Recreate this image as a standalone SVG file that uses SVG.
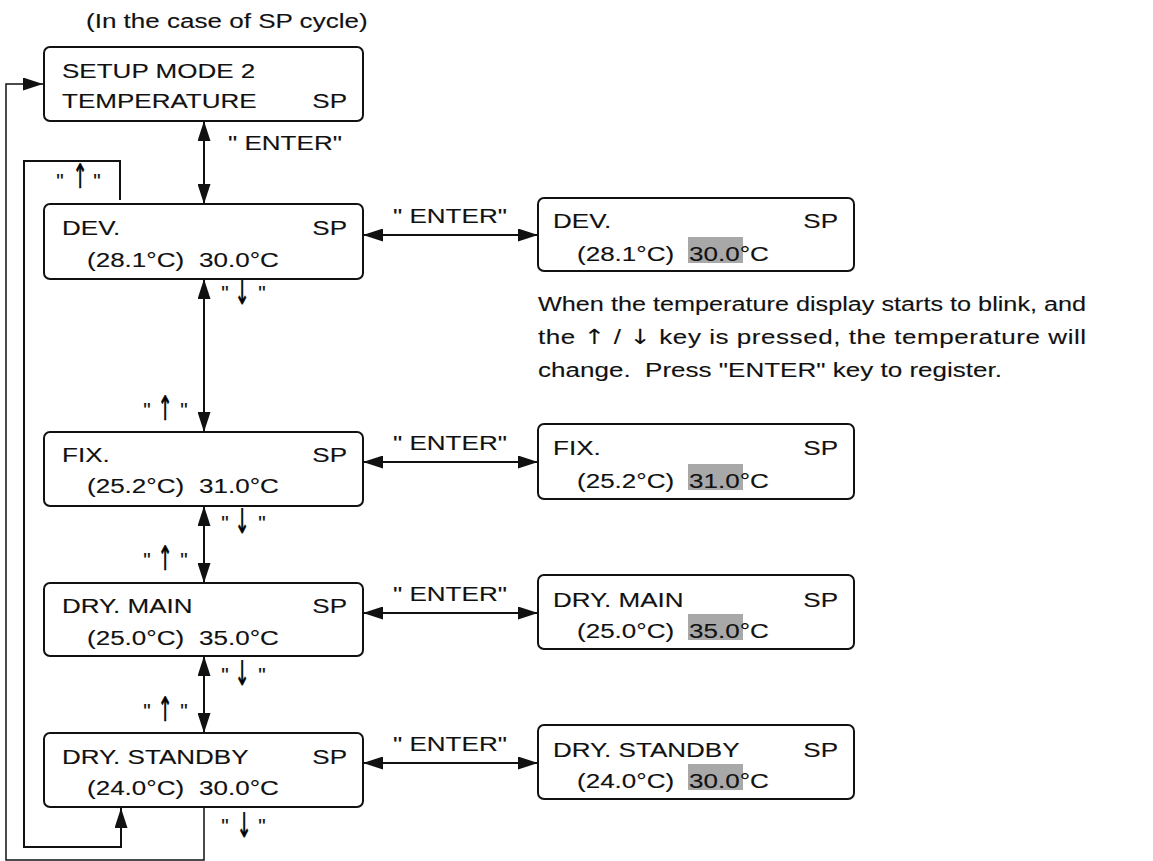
<svg xmlns="http://www.w3.org/2000/svg" width="1153" height="861" viewBox="0 0 1153 861">
<style>
.t{font-family:"Liberation Sans",Arial,Helvetica,sans-serif;font-size:21px;fill:#111;stroke:#111;stroke-width:0.12}
.a{font-family:"DejaVu Sans",sans-serif;font-size:24px;fill:#000;stroke:#000;stroke-width:0.5;text-anchor:middle}
.e{text-anchor:end}
.m{text-anchor:middle}
.box{fill:#fff;stroke:#111;stroke-width:2}
.hl{fill:#a8a8a8}
.ln{fill:none;stroke:#111;stroke-width:2}
.ol{fill:none;stroke:#111;stroke-width:1.5}
</style>
<defs>
<marker id="ah" viewBox="0 0 20 13" refX="20" refY="6.5" markerWidth="20" markerHeight="13" markerUnits="userSpaceOnUse" orient="auto-start-reverse">
<path d="M0,0 L20,6.5 L0,13 z" fill="#111"/>
</marker>
</defs>
<rect width="1153" height="861" fill="#fff"/>

<text class="t" transform="translate(86,28) scale(1.24,1)">(In the case of SP cycle)</text>

<g id="connectors">
<line class="ln" x1="204" y1="121" x2="204" y2="204" marker-start="url(#ah)" marker-end="url(#ah)"/>
<line class="ln" x1="204" y1="279" x2="204" y2="432" marker-start="url(#ah)" marker-end="url(#ah)"/>
<line class="ln" x1="204" y1="506" x2="204" y2="583" marker-start="url(#ah)" marker-end="url(#ah)"/>
<line class="ln" x1="204" y1="656" x2="204" y2="733" marker-start="url(#ah)" marker-end="url(#ah)"/>
<line class="ln" x1="363" y1="235" x2="538" y2="235" marker-start="url(#ah)" marker-end="url(#ah)"/>
<line class="ln" x1="363" y1="462" x2="538" y2="462" marker-start="url(#ah)" marker-end="url(#ah)"/>
<line class="ln" x1="363" y1="613" x2="538" y2="613" marker-start="url(#ah)" marker-end="url(#ah)"/>
<line class="ln" x1="363" y1="763" x2="538" y2="763" marker-start="url(#ah)" marker-end="url(#ah)"/>
<path class="ln" d="M120,200 V161 H24 V847 H121 V808" marker-end="url(#ah)"/>
<path class="ol" d="M204,807 V860 H6 V84 H43" marker-end="url(#ah)"/>

<text class="t" transform="translate(228,150) scale(1.24,1)">" ENTER"</text>
<text class="t" transform="translate(393,223) scale(1.24,1)">" ENTER"</text>
<text class="t" transform="translate(393,450) scale(1.24,1)">" ENTER"</text>
<text class="t" transform="translate(393,601) scale(1.24,1)">" ENTER"</text>
<text class="t" transform="translate(393,751) scale(1.24,1)">" ENTER"</text>

<g id="k-up-top">
<text class="t m" x="60" y="188">"</text><text class="a" transform="translate(80,188) scale(0.75,1.4)">↑</text><text class="t m" x="97" y="188">"</text>
</g>
<g id="k-dn-1">
<text class="t m" x="225" y="300">"</text><text class="a" transform="translate(242,304) scale(0.75,1.4)">↓</text><text class="t m" x="262" y="300">"</text>
</g>
<g id="k-up-1">
<text class="t m" x="147" y="417">"</text><text class="a" transform="translate(165,420) scale(0.75,1.4)">↑</text><text class="t m" x="184" y="417">"</text>
</g>
<g id="k-dn-2">
<text class="t m" x="225" y="530">"</text><text class="a" transform="translate(242,533) scale(0.75,1.4)">↓</text><text class="t m" x="262" y="530">"</text>
</g>
<g id="k-up-2">
<text class="t m" x="147" y="567">"</text><text class="a" transform="translate(165,570) scale(0.75,1.4)">↑</text><text class="t m" x="184" y="567">"</text>
</g>
<g id="k-dn-3">
<text class="t m" x="225" y="682">"</text><text class="a" transform="translate(242,685) scale(0.75,1.4)">↓</text><text class="t m" x="262" y="682">"</text>
</g>
<g id="k-up-3">
<text class="t m" x="147" y="718">"</text><text class="a" transform="translate(165,721) scale(0.75,1.4)">↑</text><text class="t m" x="184" y="718">"</text>
</g>
<g id="k-dn-4">
<text class="t m" x="225" y="833">"</text><text class="a" transform="translate(244,837) scale(0.75,1.4)">↓</text><text class="t m" x="262" y="833">"</text>
</g>
</g>

<g id="setup">
<rect class="box" x="44" y="47" width="319" height="74" rx="6"/>
<text class="t" transform="translate(62,78) scale(1.24,1)">SETUP MODE 2</text>
<text class="t" transform="translate(62,108) scale(1.24,1)">TEMPERATURE</text>
<text class="t e" transform="translate(347,108) scale(1.24,1)">SP</text>
</g>

<g id="dev">
<rect class="box" x="44" y="204" width="319" height="75" rx="6"/>
<text class="t" transform="translate(62,235) scale(1.24,1)">DEV.</text>
<text class="t e" transform="translate(347,235) scale(1.24,1)">SP</text>
<text class="t" transform="translate(87,267) scale(1.24,1)">(28.1°C)</text>
<text class="t" transform="translate(199,267) scale(1.24,1)">30.0°C</text>
</g>

<g id="fix">
<rect class="box" x="44" y="432" width="319" height="74" rx="6"/>
<text class="t" transform="translate(62,462) scale(1.24,1)">FIX.</text>
<text class="t e" transform="translate(347,462) scale(1.24,1)">SP</text>
<text class="t" transform="translate(87,493) scale(1.24,1)">(25.2°C)</text>
<text class="t" transform="translate(199,493) scale(1.24,1)">31.0°C</text>
</g>

<g id="drymain">
<rect class="box" x="44" y="583" width="319" height="73" rx="6"/>
<text class="t" transform="translate(62,613) scale(1.24,1)">DRY. MAIN</text>
<text class="t e" transform="translate(347,613) scale(1.24,1)">SP</text>
<text class="t" transform="translate(87,645) scale(1.24,1)">(25.0°C)</text>
<text class="t" transform="translate(199,645) scale(1.24,1)">35.0°C</text>
</g>

<g id="drystandby">
<rect class="box" x="44" y="733" width="319" height="74" rx="6"/>
<text class="t" transform="translate(62,764) scale(1.24,1)">DRY. STANDBY</text>
<text class="t e" transform="translate(347,764) scale(1.24,1)">SP</text>
<text class="t" transform="translate(87,795) scale(1.24,1)">(24.0°C)</text>
<text class="t" transform="translate(199,795) scale(1.24,1)">30.0°C</text>
</g>

<g id="dev-edit">
<rect class="box" x="538" y="198" width="316" height="73" rx="6"/>
<rect class="hl" x="688" y="237" width="55" height="26"/>
<text class="t" transform="translate(553,228) scale(1.24,1)">DEV.</text>
<text class="t e" transform="translate(838,228) scale(1.24,1)">SP</text>
<text class="t" transform="translate(577,261) scale(1.24,1)">(28.1°C)</text>
<text class="t" transform="translate(689,261) scale(1.24,1)">30.0°C</text>
</g>

<g id="fix-edit">
<rect class="box" x="538" y="424" width="316" height="75" rx="6"/>
<rect class="hl" x="688" y="464" width="55" height="26"/>
<text class="t" transform="translate(553,455) scale(1.24,1)">FIX.</text>
<text class="t e" transform="translate(838,455) scale(1.24,1)">SP</text>
<text class="t" transform="translate(577,488) scale(1.24,1)">(25.2°C)</text>
<text class="t" transform="translate(689,488) scale(1.24,1)">31.0°C</text>
</g>

<g id="drymain-edit">
<rect class="box" x="538" y="575" width="316" height="74" rx="6"/>
<rect class="hl" x="688" y="614" width="55" height="26"/>
<text class="t" transform="translate(553,607) scale(1.24,1)">DRY. MAIN</text>
<text class="t e" transform="translate(838,607) scale(1.24,1)">SP</text>
<text class="t" transform="translate(577,638) scale(1.24,1)">(25.0°C)</text>
<text class="t" transform="translate(689,638) scale(1.24,1)">35.0°C</text>
</g>

<g id="drystandby-edit">
<rect class="box" x="538" y="725" width="316" height="74" rx="6"/>
<rect class="hl" x="688" y="764" width="55" height="26"/>
<text class="t" transform="translate(553,757) scale(1.24,1)">DRY. STANDBY</text>
<text class="t e" transform="translate(838,757) scale(1.24,1)">SP</text>
<text class="t" transform="translate(577,788) scale(1.24,1)">(24.0°C)</text>
<text class="t" transform="translate(689,788) scale(1.24,1)">30.0°C</text>
</g>

<g id="note">
<text class="t" transform="translate(538,311) scale(1.24,1)" textLength="442" lengthAdjust="spacingAndGlyphs">When the temperature display starts to blink, and</text>
<text class="t" transform="translate(538,344) scale(1.24,1)" textLength="442" lengthAdjust="spacing">the <tspan font-family="DejaVu Sans" stroke-width="0">↑</tspan> / <tspan font-family="DejaVu Sans" stroke-width="0">↓</tspan> key is pressed, the temperature will</text>
<text class="t" transform="translate(538,377) scale(1.24,1)" xml:space="preserve">change.  Press "ENTER" key to register.</text>
</g>
</svg>
